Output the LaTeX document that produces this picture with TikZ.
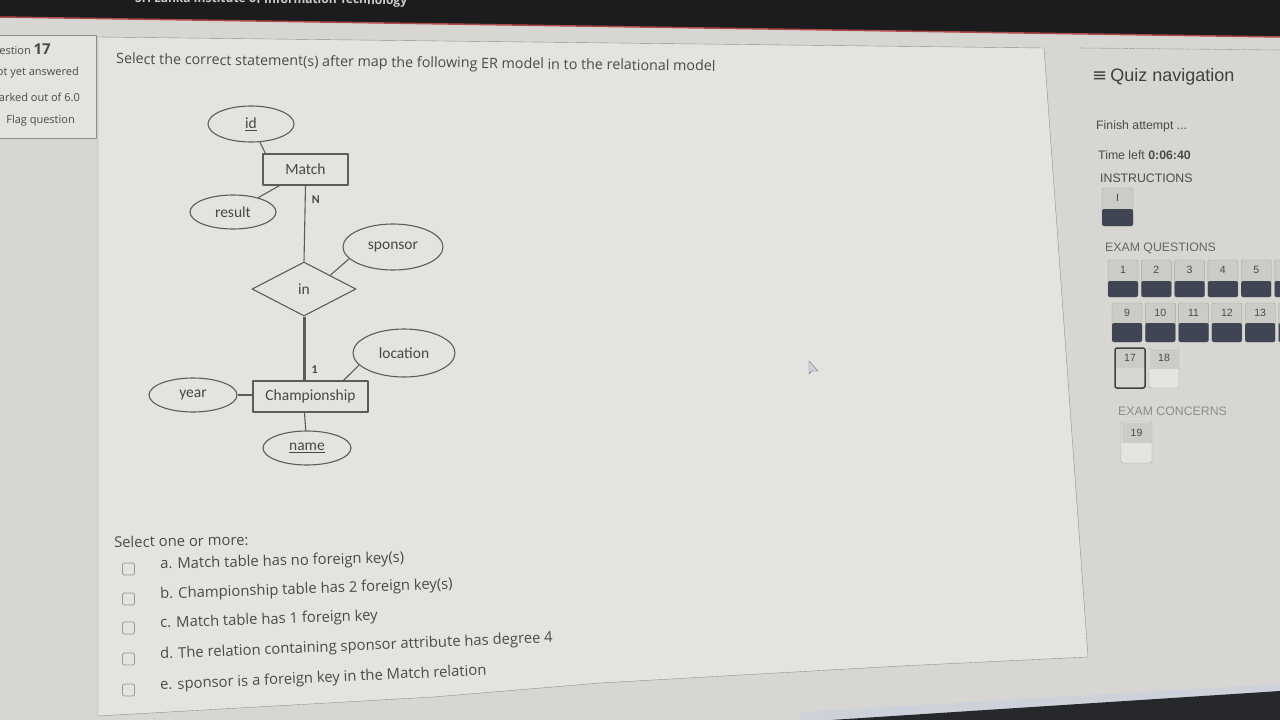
\documentclass[tikz,border=0pt]{standalone}
\usepackage{fontspec}
\setmainfont{Open Sans}
\newfontfamily\erfont{Carlito}
\newfontfamily\navfont{Liberation Sans}
\newfontfamily\symfont{DejaVu Sans}
\usepackage{tikz}
\usetikzlibrary{shapes.geometric}
\definecolor{screenbg}{HTML}{D8D6D2}
\definecolor{panelbg}{HTML}{E3E3DF}
\definecolor{panelline}{HTML}{8E8E8A}
\definecolor{erline}{HTML}{5C5C5C}
\definecolor{ertext}{HTML}{474747}
\definecolor{bodytext}{HTML}{4A4A4A}
\definecolor{navdark}{HTML}{3F4552}
\definecolor{navlight}{HTML}{CBCBC7}
\definecolor{navpale}{HTML}{E4E4E0}
\definecolor{navedge}{HTML}{A4A4A0}
\definecolor{topbar}{HTML}{1C1C1E}
\definecolor{topred}{HTML}{B04A4A}
\definecolor{bezel}{HTML}{26282C}
\definecolor{bezelglow}{HTML}{CDD2DA}

\begin{document}
\begin{tikzpicture}[x=1pt, y=-1pt, line join=round,
        entity/.style={draw=erline, line width=1.1pt, fill=panelbg, minimum height=31, inner sep=0,
            font=\erfont\fontsize{15.5}{15.5}\selectfont, text=ertext},
        attr/.style={ellipse, draw=erline, line width=1.1pt, fill=panelbg, inner sep=0,
            font=\erfont\fontsize{15.5}{15.5}\selectfont, text=ertext},
        rel/.style={diamond, draw=erline, line width=1.1pt, fill=panelbg, inner sep=0,
            font=\erfont\fontsize{15.5}{15.5}\selectfont, text=ertext},
        link/.style={draw=erline, line width=1.1pt},
        card/.style={right, inner sep=6, font=\erfont\bfseries\fontsize{12}{12}\selectfont, text=ertext},
        body/.style={anchor=west, inner sep=0, text=bodytext, font=\fontsize{14.8}{14.8}\selectfont},
        side/.style={anchor=west, inner sep=0, text=bodytext, font=\navfont\fontsize{12.3}{12.3}\selectfont},
        info/.style={anchor=east, inner sep=0, text=bodytext, font=\fontsize{11}{11}\selectfont},
        btnnum/.style={inner sep=0, text=bodytext, font=\navfont\fontsize{10.5}{10.5}\selectfont},
        checkbox/.style={draw=black!40, line width=0.8pt, fill=panelbg, rounded corners=2, minimum size=12, inner sep=0}]
    \useasboundingbox (0,0) rectangle (1280,720);
    \fill[screenbg] (0,0) rectangle (1280,720);

    % screen header
    \fill[topbar] (0,0) -- (1280,0) -- (1280,37) -- (0,17) -- cycle;
    \draw[topred, line width=1.5pt] (0,17) -- (1280,37);
    \node[anchor=base west, inner sep=0, text=black!20, rotate=-0.5,
        font=\bfseries\fontsize{12}{12}\selectfont] (school) at (135,2) {Sri Lanka Institute of Information Technology};

    % question info
    \draw[panelline, fill=panelbg] (-2,35) rectangle (96,138);
    \node[info] (qnum) at (51,50) {Question \textbf{\fontsize{15}{15}\selectfont 17}};
    \node[info] (state) at (79,73) {Not yet answered};
    \node[info] (marks) at (80,97) {Marked out of 6.0};
    \node[info] (flag) at (75,121) {Flag question};

    % question panel
    \draw[panelline, fill=panelbg] (98,37) -- (1044,48) -- (1088,657) -- (900,666) -- (600,683)
        -- (433,697) -- (98,716) -- cycle;
    \node[body, rotate=-0.7, font=\fontsize{14.3}{14.3}\selectfont] (question) at (116,60)
        {Select the correct statement(s) after map the following ER model in to the relational model};

    % ER model
    \node[entity, minimum width=85] (match) at (305.5,169.5) {Match};
    \node[entity, minimum width=115] (champ) at (310.5,396.5) {Championship};
    \node[attr, minimum width=86, minimum height=36] (id) at (251,124) {\underline{id}};
    \node[attr, minimum width=86, minimum height=34] (result) at (233,212) {result};
    \node[attr, minimum width=100, minimum height=46] (sponsor) at (393,247) {sponsor};
    \node[rel, minimum width=104, minimum height=54] (in) at (304,289) {in};
    \node[attr, minimum width=102, minimum height=48] (location) at (404,353) {location};
    \node[attr, minimum width=88, minimum height=34] (year) at (193,395) {year};
    \node[attr, minimum width=88, minimum height=34] (name) at (307,448) {\underline{name}};
    \draw[link] (id) -- ([xshift=3pt]match.north west);
    \draw[link] (result) -- ([xshift=-26pt]match.south);
    \draw[link] (match.south) -- node[card, pos=0.18] {N} (in.north);
    \draw[link] (sponsor.-165) -- (in.north east);
    \draw[link, line width=3pt] (in.south) -- node[card, pos=0.83] {1} (in.south |- champ.north);
    \draw[link] (location.-165) -- ([xshift=33pt]champ.north);
    \draw[link] (year) -- (year -| champ.west);
    \draw[link] ([xshift=-6pt]champ.south) -- (name);

    % mouse pointer
    \draw[black!55, fill=bezelglow] (809,361) -- (809,374) -- (812,371) -- (818,371) -- cycle;

    % answers
    \node[body, rotate=1] (hint) at (114,542) {Select one or more:};
    \foreach \opt/\txt/\yy/\rot [count=\i] in {
            a/{a. Match table has no foreign key(s)}/565/1.5,
            b/{b. Championship table has 2 foreign key(s)}/595/2,
            c/{c. Match table has 1 foreign key}/624/2,
            d/{d. The relation containing sponsor attribute has degree 4}/655/2.4,
            e/{e. sponsor is a foreign key in the Match relation}/686/2.6} {
        \node[checkbox] (box\opt) at (128.5,\yy+4) {};
        \node[body, rotate=\rot] (ans\opt) at (160,\yy) {\txt};
    }

    % quiz navigation
    \draw[black!35, line width=0.6pt, dash pattern=on 6pt off 1pt] (1080,48) -- (1280,50);
    \node[side, text=black!75, font=\navfont\fontsize{18}{18}\selectfont] (navtitle) at (1092,77)
        {{\symfont ≡}\,Quiz navigation};
    \node[side] (finish) at (1096,126) {Finish attempt ...};
    \node[side] (timer) at (1098,155) {Time left \textbf{0:06:40}};
    \node[side] (instr) at (1100,178) {INSTRUCTIONS};
    \draw[navedge, fill=navlight, rounded corners=2] (1102,188) rectangle +(31,38);
    \fill[navdark, rounded corners=2] (1102,209) rectangle +(31,17);
    \node[btnnum] (btnI) at (1117.5,198) {I};
    \node[side, text=black!60] (examq) at (1105,248) {EXAM QUESTIONS};
    \foreach \n [count=\i from 0] in {1,...,6} {
        \draw[navedge, fill=navlight, rounded corners=2] (1108+33.3*\i,260) rectangle +(30,37);
        \fill[navdark, rounded corners=2] (1108+33.3*\i,281) rectangle +(30,16);
        \node[btnnum] (q\n) at (1123+33.3*\i,270) {\n};
    }
    \foreach \n [count=\i from 0] in {9,...,14} {
        \draw[navedge, fill=navlight, rounded corners=2] (1112+33.3*\i,303) rectangle +(30,39);
        \fill[navdark, rounded corners=2] (1112+33.3*\i,323) rectangle +(30,19);
        \node[btnnum] (q\n) at (1127+33.3*\i,313) {\n};
    }
    \draw[navedge, fill=navpale, rounded corners=2] (1149,348) rectangle +(30,40);
    \fill[navlight] (1149.5,348.5) rectangle +(29,20);
    \node[btnnum] (q18) at (1164,358) {18};
    \draw[navedge, fill=navpale, rounded corners=2] (1121,422) rectangle +(31,41);
    \fill[navlight] (1121.5,422.5) rectangle +(30,20);
    \node[btnnum] (q19) at (1136.5,433) {19};
    \fill[navlight] (1115,348) rectangle +(30,20);
    \draw[black!75, line width=1.5pt, rounded corners=2] (1115,348) rectangle +(30,40);
    \node[btnnum] (q17) at (1130,358) {17};
    \node[side, text=black!45] (examc) at (1118,411) {EXAM CONCERNS};

    % monitor edge
    \fill[bezelglow] (800,712) -- (1280,684) -- (1280,692) -- (800,722) -- cycle;
    \fill[bezel] (800,722) -- (1280,691) -- (1280,720) -- (800,720) -- cycle;
\end{tikzpicture}
\end{document}
